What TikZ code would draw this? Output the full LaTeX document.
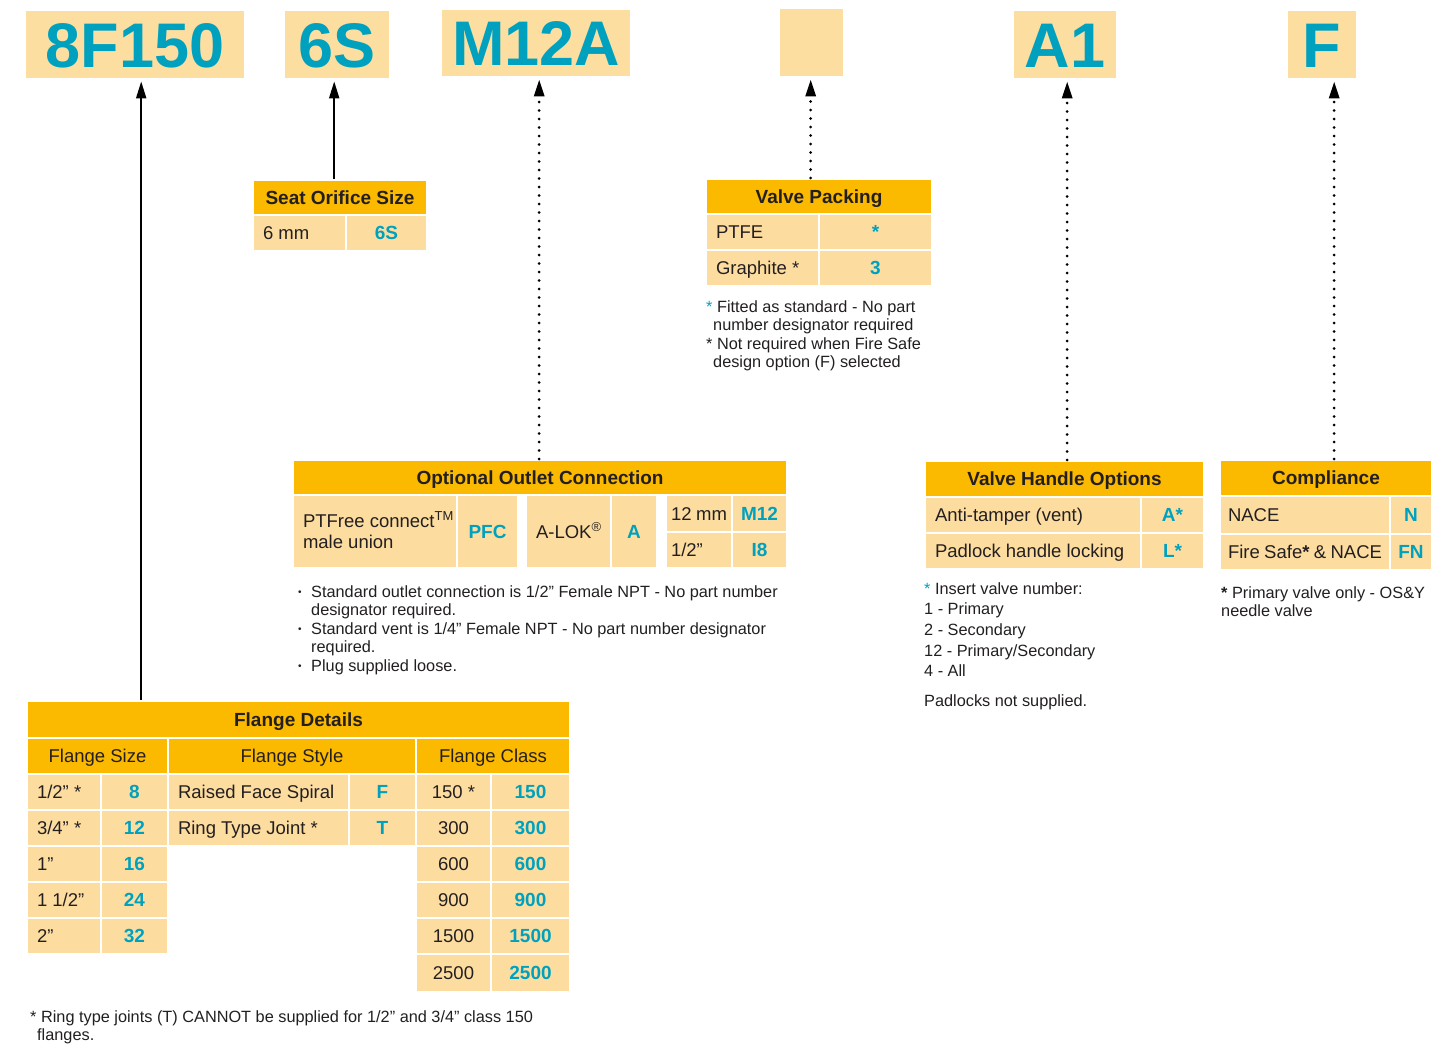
\documentclass[tikz,border=0pt]{standalone}
\usepackage{fontspec}
\setmainfont{Liberation Sans}
\usetikzlibrary{arrows.meta}
\definecolor{hdr}{HTML}{FBB900}
\definecolor{cellc}{HTML}{FDDD9F}
\definecolor{codebg}{HTML}{FDDEA1}
\definecolor{codec}{HTML}{00A1BF}
\definecolor{ink}{HTML}{231F20}
\tikzset{
  tcell/.style={fill=cellc, draw=white, line width=2pt, inner sep=0pt, anchor=north west,
    text=ink, text height=13pt, text depth=0pt, font=\fontsize{18.5}{21}\selectfont},
  thead/.style 2 args={tcell, fill=hdr, minimum width=#1pt, minimum height=#2pt,
    font=\bfseries\fontsize{19}{21}\selectfont},
  tsub/.style 2 args={thead={#1}{#2}, font=\fontsize{18.5}{21}\selectfont},
  ccell/.style 2 args={tcell, minimum width=#1pt, minimum height=#2pt},
  code/.style 2 args={ccell={#1}{#2}, text=codec, font=\bfseries\fontsize{19}{21}\selectfont},
  lcell/.style 2 args={tcell, minimum height=#2pt, inner xsep=10pt,
    execute at begin node={\hbox to #1pt\bgroup}, execute at end node={\hfil\egroup}},
  codebox/.style 2 args={fill=codebg, inner sep=0pt, anchor=north west, minimum width=#1pt,
    minimum height=#2pt, text=codec, text height=45pt, text depth=0pt,
    font=\bfseries\fontsize{63}{63}\selectfont},
  note/.style={anchor=north west, inner sep=0pt, align=left, text=ink,
    font=\fontsize{16.3}{18.5}\selectfont},
  solidarr/.style={-{Triangle[length=17pt,width=10pt]}, line width=2pt, shorten >=3pt},
  dotarr/.style={solidarr, line width=3pt, line cap=round, dash pattern=on 0pt off 8.5pt}
}
\newcommand{\bul}{\makebox[13pt][l]{\raisebox{1.5pt}{\fontsize{10}{10}\selectfont\textbullet}}}
\begin{document}
\begin{tikzpicture}[x=1pt, y=-1pt]
\useasboundingbox (0,0) rectangle (1454,1044);
\node[codebox={218}{67}] (c8f) at (26,11) {8F150};
\node[codebox={104}{67}] (c6s) at (285,11) {6S};
\node[codebox={188}{66}] (cm12a) at (442,10) {M12A};
\node[codebox={63}{67}] (cblank) at (780,9) {};
\node[codebox={102}{67}] (ca1) at (1014,11) {A1};
\node[codebox={68}{67}] (cf) at (1288,11) {F};

\node[thead={174}{35}] (seathd) at (252,179) {Seat Orifice Size};
\node[lcell={73}{36}] (seatmm) at (252,214) {6 mm};
\node[code={81}{36}] (seatcode) at (345,214) {6S};

\node[thead={226}{35}] (packhd) at (705,178) {Valve Packing};
\node[lcell={93}{36}] (ptfe) at (705,213) {PTFE};
\node[code={113}{36}] (ptfecode) at (818,213) {*};
\node[lcell={93}{36}] (graph) at (705,249) {Graphite *};
\node[code={113}{36}] (graphcode) at (818,249) {3};
\node[note] (packnote) at (706,300) {{\color{codec}*} Fitted as standard - No part\\
  \hspace*{7pt}number designator required\\
  * Not required when Fire Safe\\
  \hspace*{7pt}design option (F) selected};

\node[thead={494}{35}] (outhd) at (292,459) {Optional Outlet Connection};
\node[lcell={144}{73}, text depth=22pt] (pfc) at (292,494)
  {\begin{tabular}[t]{@{}l@{}}PTFree connect\textsuperscript{TM}\\male union\end{tabular}};
\node[code={61}{73}] (pfccode) at (456,494) {PFC};
\node[lcell={65}{73}] (alok) at (525,494) {A-LOK\textsuperscript{®}};
\node[code={46}{73}] (alokcode) at (610,494) {A};
\node[lcell={56}{37}, inner xsep=5pt] (mm12) at (665,494) {12 mm};
\node[code={55}{37}] (m12code) at (731,494) {M12};
\node[lcell={56}{36}, inner xsep=5pt] (inch) at (665,531) {1/2”};
\node[code={55}{36}] (i8code) at (731,531) {I8};
\node[note] (outnote) at (298,585) {\bul Standard outlet connection is 1/2” Female NPT - No part number\\
  \hspace*{13pt}designator required.\\
  \bul Standard vent is 1/4” Female NPT - No part number designator\\
  \hspace*{13pt}required.\\
  \bul Plug supplied loose.};

\node[thead={279}{36}] (handhd) at (924,460) {Valve Handle Options};
\node[lcell={196}{36}] (tamper) at (924,496) {Anti-tamper (vent)};
\node[code={63}{36}] (tampcode) at (1140,496) {A*};
\node[lcell={196}{36}] (padlock) at (924,532) {Padlock handle locking};
\node[code={63}{36}] (padcode) at (1140,532) {L*};
\node[note, font=\fontsize{16.3}{20.7}\selectfont] (handnote) at (924,582) {{\color{codec}*} Insert valve number:\\
  1 - Primary\\
  2 - Secondary\\
  12 - Primary/Secondary\\
  4 - All\\[9pt]
  Padlocks not supplied.};

\node[thead={212}{36}] (comphd) at (1219,459) {Compliance};
\node[lcell={154}{38}, inner xsep=8pt] (nace) at (1219,495) {NACE};
\node[code={42}{38}] (nacecode) at (1389,495) {N};
\node[lcell={154}{36}, inner xsep=8pt] (firesafe) at (1219,533) {Fire Safe\textbf{*} \& NACE};
\node[code={42}{36}] (fscode) at (1389,533) {FN};
\node[note] (compnote) at (1221,586) {\textbf{*} Primary valve only - OS\&Y\\needle valve};

\node[thead={543}{37}] (flangehd) at (26,700) {Flange Details};
\node[tsub={141}{36}] (sizehd) at (26,737) {Flange Size};
\node[tsub={248}{36}] (stylehd) at (167,737) {Flange Style};
\node[tsub={154}{36}] (classhd) at (415,737) {Flange Class};
\node[lcell={54}{36}] (size1) at (26,773) {1/2” *};
\node[code={67}{36}] (sizecode1) at (100,773) {8};
\node[lcell={54}{36}] (size2) at (26,809) {3/4” *};
\node[code={67}{36}] (sizecode2) at (100,809) {12};
\node[lcell={54}{36}] (size3) at (26,845) {1”};
\node[code={67}{36}] (sizecode3) at (100,845) {16};
\node[lcell={54}{36}] (size4) at (26,881) {1 1/2”};
\node[code={67}{36}] (sizecode4) at (100,881) {24};
\node[lcell={54}{36}] (size5) at (26,917) {2”};
\node[code={67}{36}] (sizecode5) at (100,917) {32};
\node[lcell={161}{36}] (style1) at (167,773) {Raised Face Spiral};
\node[code={67}{36}] (stylecode1) at (348,773) {F};
\node[lcell={161}{36}] (style2) at (167,809) {Ring Type Joint *};
\node[code={67}{36}] (stylecode2) at (348,809) {T};
\node[ccell={75}{36}] (class1) at (415,773) {150 *};
\node[code={79}{36}] (classcode1) at (490,773) {150};
\node[ccell={75}{36}] (class2) at (415,809) {300};
\node[code={79}{36}] (classcode2) at (490,809) {300};
\node[ccell={75}{36}] (class3) at (415,845) {600};
\node[code={79}{36}] (classcode3) at (490,845) {600};
\node[ccell={75}{36}] (class4) at (415,881) {900};
\node[code={79}{36}] (classcode4) at (490,881) {900};
\node[ccell={75}{36}] (class5) at (415,917) {1500};
\node[code={79}{36}] (classcode5) at (490,917) {1500};
\node[ccell={75}{38}] (class6) at (415,953) {2500};
\node[code={79}{38}] (classcode6) at (490,953) {2500};
\node[note] (flangenote) at (30,1010) {* Ring type joints (T) CANNOT be supplied for 1/2” and 3/4” class 150\\
  \hspace*{7pt}flanges.};

\draw[solidarr] ([xshift=6pt]flangehd.north -| c8f.south) -- ([xshift=6pt]c8f.south);
\draw[solidarr] ([xshift=-3pt]seathd.north -| c6s.south) -- ([xshift=-3pt]c6s.south);
\draw[dotarr] ([xshift=3pt]outhd.north -| cm12a.south) -- ([xshift=3pt]cm12a.south);
\draw[dotarr] ([xshift=-1pt]packhd.north -| cblank.south) -- ([xshift=-1pt]cblank.south);
\draw[dotarr] ([xshift=2pt]handhd.north -| ca1.south) -- ([xshift=2pt]ca1.south);
\draw[dotarr] ([xshift=12pt]comphd.north -| cf.south) -- ([xshift=12pt]cf.south);
\end{tikzpicture}
\end{document}
